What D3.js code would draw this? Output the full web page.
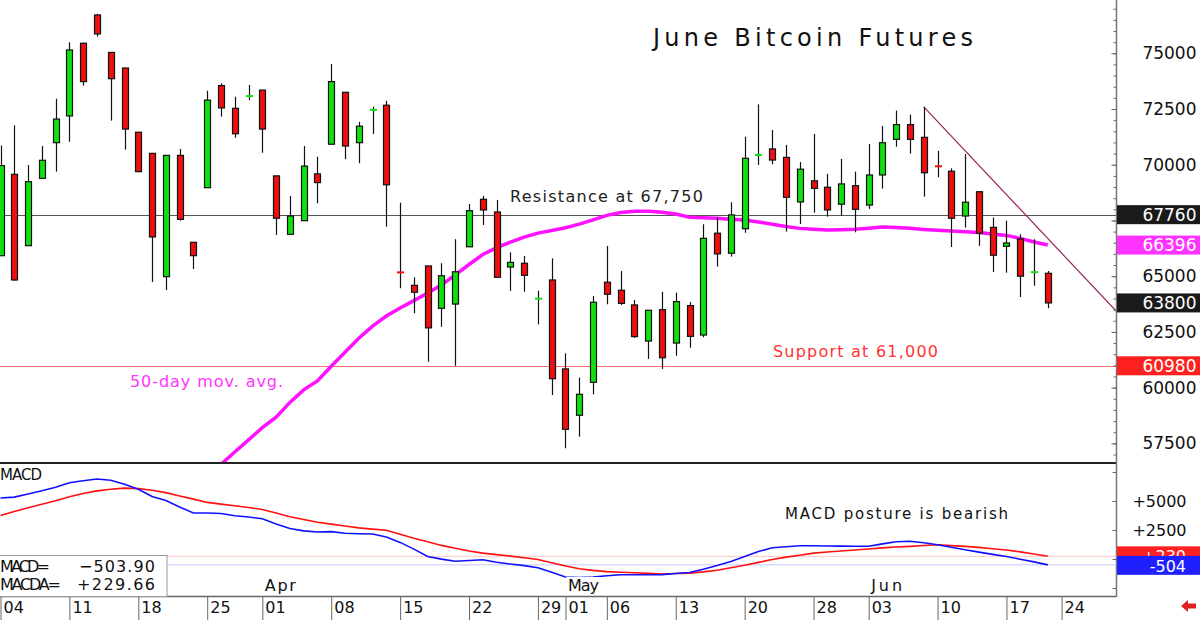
<!DOCTYPE html>
<html>
<head>
<meta charset="utf-8">
<script src="https://cdn.jsdelivr.net/npm/d3@7"></script>
<style>
  body { margin: 0; background: #fff; }
  svg { display: block; }
</style>
</head>
<body>
<script>
// daily OHLC, one entry per trading day from Mar 04
var opens  = [65920,69570,66370,69390,70990,72190,75450,76720,75040,74340,
              71460,70510,64980,70420,66520,68970,73550,72530,73060,73350,
              69500,66880,67490,69590,70920,73250,70990,72440,72670,65190,
              64590,65460,63560,63750,66320,68450,67880,65410,65580,63970,
              64830,60840,58760,60240,64730,64370,63710,62090,63500,62000,
              63680,62360,66930,66030,67130,70430,70710,70330,68330,69280,
              68990,68230,69060,68190,69540,71140,71800,71230,69950,69710,
              67700,68790,67190,66340,66670,65170,65130];
var highs  = [70860,71770,69990,70840,72960,75490,75480,76760,75060,74350,
              71470,70530,70440,70710,66530,73320,73650,73050,73580,73360,
              69510,68600,70840,70360,74520,73260,71920,72600,72870,68300,
              64950,65470,65580,66660,68240,68600,68420,66070,65910,64350,
              65800,61540,60450,64110,66360,65230,63930,63480,64300,64260,
              63840,67330,67640,68320,71260,72710,71560,70890,70120,71380,
              69590,70260,69690,70930,71740,72430,72250,72600,70620,69840,
              70480,68800,67630,67490,66880,66660,65230];
var lows   = [65900,64790,66350,69380,69690,71030,73550,75750,71980,70680,
              69680,64740,64380,67490,65320,68960,72160,71210,72900,70540,
              66850,66870,67480,68270,70910,70250,70070,71380,67220,64460,
              63340,61160,62730,60980,66310,67300,64940,64340,64300,62840,
              59670,57280,57800,59700,63740,63710,62240,61290,60840,61430,
              61790,62260,65430,65880,66950,69990,70020,67000,67340,67850,
              67670,67700,66970,68020,68930,70810,70500,68570,69440,66310,
              67180,66360,65190,65160,64070,64570,63560];
var closes = [69960,64830,69240,70200,72050,75150,73730,75870,73860,71600,
              69690,66760,70420,67550,65920,72900,72550,71390,73080,71600,
              67600,67700,69940,69200,73730,70840,71730,72460,69100,65170,
              64280,62680,65020,65200,67940,67970,64950,65620,65040,63990,
              60400,58130,59700,63830,64190,63780,62290,63470,61340,63860,
              62300,66700,66000,67750,70290,70440,70210,68540,69800,68940,
              67970,69140,68000,69540,70990,71800,71140,69640,69930,67600,
              68320,66930,65940,66490,65000,65180,63800];

// 50-day moving average, starts at day 16
var maStart = 16;
var ma50 = [56560,57110,57656,58208,58679,59338,59899,60298,60962,61590,
            62214,62761,63214,63573,63905,64242,64605,65058,65525,65974,
            66283,66525,66754,66934,67050,67176,67333,67530,67728,67853,
            67916,67916,67871,67790,67647,67620,67598,67557,67517,67432,
            67333,67230,67145,67109,67073,67087,67104,67149,67207,67181,
            67149,67100,67059,67028,66992,66956,66893,66830,66696,66534,66396];

// MACD (blue) and its average (red)
var macd    = [5258,5336,5603,5879,6181,6568,6741,6896,6784,6439,
               6008,5388,5034,4482,3965,3965,3922,3724,3620,3465,
               3026,2629,2422,2327,2362,2215,2181,2155,1896,1431,
               853,216,-9,-198,-129,-69,-276,-431,-569,-750,
               -1146,-1552,-1600,-1560,-1448,-1353,-1353,-1353,-1345,-1250,
               -1164,-879,-560,-207,207,638,974,1060,1146,1138,
               1121,1112,1103,1103,1302,1491,1526,1396,1224,1009,
               802,595,397,216,-17,-250,-504];
var macdAvg = [3741,4095,4422,4715,5025,5370,5646,5870,6017,6112,
               6068,5931,5724,5439,5163,4879,4732,4586,4439,4267,
               3957,3646,3405,3164,3008,2845,2681,2577,2474,2138,
               1793,1483,1172,922,690,509,379,250,112,-43,
               -319,-603,-836,-983,-1086,-1138,-1190,-1241,-1293,-1250,
               -1215,-1112,-974,-759,-534,-293,-43,164,328,509,
               603,690,776,862,957,1034,1086,1164,1233,1155,
               1086,1000,888,776,612,431,230];

// downtrend line: [day, price]
var trendLine = [[67, 72600], [81, 63410]];

var resistance = 67760, support = 60980;
var lastMacd = -503.90, lastMacdAvg = 229.66;

var priceTicks  = [57500, 60000, 62500, 65000, 67500, 70000, 72500, 75000];
var priceLabels = [57500, 60000, 62500, 65000, 70000, 72500, 75000]; // 67500 sits under the 67760 box
var macdTicks  = [-2500, 0, 2500, 5000, 7500];
var weekIdx = [0, 5, 10, 15, 19, 24, 29, 34, 39, 41, 44, 49, 54, 59, 63, 68, 73, 77];
var weekLbl = ["04","11","18","25","01","08","15","22","29","01","06","13","20","28","03","10","17","24"];
var monthIdx = [19, 41, 63];
var monthLbl = ["Apr", "May", "Jun"];

var w = 1200, h = 620;
var font = "'DejaVu Sans', sans-serif";
var axisX = 1116.5;
var upColor = "#10e010", downColor = "#ee1010";

var x  = d3.scaleLinear().domain([0, 81]).range([0.5, 1116.7]);
var yP = d3.scaleLinear().domain([56619, 77391]).range([463, 0]);
var yM = d3.scaleLinear().domain([-3190, 8276]).range([596, 463]);

var svg = d3.select("body").append("svg")
    .attr("width", w)
    .attr("height", h)
    .attr("font-family", font);

svg.append("defs").append("clipPath").attr("id", "pclip")
   .append("rect").attr("x", 0).attr("y", 0).attr("width", axisX).attr("height", 463);

// ---- price panel ----
var price = svg.append("g").attr("clip-path", "url(#pclip)");

price.append("line")
   .attr("x1", 0).attr("x2", axisX)
   .attr("y1", Math.round(yP(resistance)) + 0.5).attr("y2", Math.round(yP(resistance)) + 0.5)
   .attr("stroke", "#555").attr("stroke-width", 1);
price.append("line")
   .attr("x1", 0).attr("x2", axisX)
   .attr("y1", Math.round(yP(support)) + 0.5).attr("y2", Math.round(yP(support)) + 0.5)
   .attr("stroke", "#ff6a6a").attr("stroke-width", 1);

price.append("path")
   .datum(ma50)
   .attr("d", d3.line().x(function(d, i) { return x(i + maStart); }).y(function(d) { return yP(d); }))
   .attr("fill", "none")
   .attr("stroke", "#ff10ff")
   .attr("stroke-width", 3.5);

price.append("line")
   .attr("x1", x(trendLine[0][0])).attr("y1", yP(trendLine[0][1]))
   .attr("x2", x(trendLine[1][0])).attr("y2", yP(trendLine[1][1]))
   .attr("stroke", "#9a2060").attr("stroke-width", 1.2);

var days = d3.range(opens.length);

price.selectAll("line.wick")
   .data(days)
   .enter()
   .append("line")
   .attr("class", "wick")
   .attr("x1", function(i) { return Math.round(x(i)) + 0.5; })
   .attr("x2", function(i) { return Math.round(x(i)) + 0.5; })
   .attr("y1", function(i) { return yP(highs[i]); })
   .attr("y2", function(i) { return yP(lows[i]); })
   .attr("stroke", "#111")
   .attr("stroke-width", 1.2);

function isDoji(i) { return Math.abs(opens[i] - closes[i]) < 60; }

price.selectAll("rect.body")
   .data(days.filter(function(i) { return !isDoji(i); }))
   .enter()
   .append("rect")
   .attr("class", "body")
   .attr("x", function(i) { return Math.round(x(i)) - 2.5; })
   .attr("y", function(i) { return yP(Math.max(opens[i], closes[i])); })
   .attr("width", 6)
   .attr("height", function(i) { return Math.abs(yP(opens[i]) - yP(closes[i])); })
   .attr("fill", function(i) { return closes[i] > opens[i] ? upColor : downColor; })
   .attr("stroke", "#111")
   .attr("stroke-width", 1.2);

price.selectAll("rect.doji")
   .data(days.filter(isDoji))
   .enter()
   .append("rect")
   .attr("class", "doji")
   .attr("x", function(i) { return Math.round(x(i)) - 3; })
   .attr("y", function(i) { return yP(closes[i]) - 1; })
   .attr("width", 7)
   .attr("height", 2)
   .attr("fill", function(i) { return closes[i] >= opens[i] ? upColor : downColor; });

// texts in the price panel
function label(txt, px, py, size, color, len) {
  var t = svg.append("text")
     .attr("x", px).attr("y", py)
     .attr("font-size", size)
     .attr("fill", color)
     .text(txt);
  if (len) t.attr("textLength", len).attr("lengthAdjust", "spacing");
  return t;
}
label("June Bitcoin Futures", 653, 46, 24, "#111", 320);
label("Resistance at 67,750", 510, 202, 16, "#222", 193);
label("Support at 61,000", 773, 357, 16, "#ff3333", 165);
label("50-day mov. avg.", 130, 386.5, 16, "#ff33ff", 153);

// panel borders
svg.append("line").attr("x1", 0).attr("x2", axisX).attr("y1", 463).attr("y2", 463)
   .attr("stroke", "#222").attr("stroke-width", 2);
svg.append("line").attr("x1", 0).attr("x2", axisX).attr("y1", 596.5).attr("y2", 596.5)
   .attr("stroke", "#666").attr("stroke-width", 1.5);
svg.append("line").attr("x1", axisX).attr("x2", axisX).attr("y1", 0).attr("y2", 597)
   .attr("stroke", "#777").attr("stroke-width", 1.5);

// ---- right price axis ----
var minor = svg.append("g").attr("transform", "translate(" + axisX + ",0)")
   .call(d3.axisRight(yP).tickValues(d3.range(57000, 77001, 500)).tickSize(-3).tickFormat(""));
minor.select(".domain").remove();
minor.selectAll("line").attr("stroke", "#666");

var pAxis = svg.append("g").attr("transform", "translate(" + axisX + ",0)")
   .call(d3.axisRight(yP).tickValues(priceTicks).tickSize(-5)
     .tickFormat(function(d) { return priceLabels.indexOf(d) >= 0 ? d : ""; }));
pAxis.select(".domain").remove();
pAxis.selectAll("line").attr("stroke", "#666");
pAxis.selectAll("text")
   .attr("x", 80).attr("text-anchor", "end")
   .attr("font-family", font).attr("font-size", 17).attr("fill", "#111");

function valueBox(v, y, fill, txt, right) {
  svg.append("rect").attr("x", axisX + 0.5).attr("y", y - 9.5)
     .attr("width", w - axisX).attr("height", 19).attr("fill", fill);
  svg.append("text").attr("x", right).attr("y", y).attr("dy", "0.36em")
     .attr("text-anchor", "end").attr("font-size", 17).attr("fill", "#fff")
     .text(txt);
}
valueBox(resistance, yP(resistance), "#1a1a1a", resistance, 1196.5);
valueBox(ma50[ma50.length - 1], yP(ma50[ma50.length - 1]), "#ff33ff", ma50[ma50.length - 1], 1196.5);
valueBox(closes[closes.length - 1], yP(closes[closes.length - 1]), "#1a1a1a", closes[closes.length - 1], 1196.5);
valueBox(support, yP(support), "#ff2020", support, 1196.5);

// ---- MACD panel ----
svg.append("line").attr("x1", 0).attr("x2", axisX)
   .attr("y1", yM(lastMacdAvg)).attr("y2", yM(lastMacdAvg))
   .attr("stroke", "#ffc6c6").attr("stroke-width", 1);
svg.append("line").attr("x1", 0).attr("x2", axisX)
   .attr("y1", yM(lastMacd)).attr("y2", yM(lastMacd))
   .attr("stroke", "#c6c6ff").attr("stroke-width", 1);

svg.append("path")
   .datum(macdAvg)
   .attr("d", d3.line().x(function(d, i) { return x(i); }).y(function(d) { return yM(d); }))
   .attr("fill", "none").attr("stroke", "#ff1010").attr("stroke-width", 1.6);
svg.append("path")
   .datum(macd)
   .attr("d", d3.line().x(function(d, i) { return x(i); }).y(function(d) { return yM(d); }))
   .attr("fill", "none").attr("stroke", "#1010ff").attr("stroke-width", 1.6);

label("MACD", 0, 479.5, 15, "#111", 42);
label("MACD posture is bearish", 785, 519, 15, "#111", 223);

svg.append("rect").attr("x", -1).attr("y", 555.5).attr("width", 168).attr("height", 41)
   .attr("fill", "#fff").attr("stroke", "#999").attr("stroke-width", 1);
label("MACD=", 0, 571.5, 16, "#111", 50);
label("MACDA=", 0, 590, 16, "#111", 61);
label(d3.format(".2f")(lastMacd), 155, 571.5, 16, "#111", 76).attr("text-anchor", "end");
label(d3.format("+.2f")(lastMacdAvg), 155, 590, 16, "#111", 78).attr("text-anchor", "end");

var mAxis = svg.append("g").attr("transform", "translate(" + axisX + ",0)")
   .call(d3.axisRight(yM).tickValues(macdTicks).tickSize(-4)
     .tickFormat(function(d) { return (d === 2500 || d === 5000) ? "+" + d : ""; }));
mAxis.select(".domain").remove();
mAxis.selectAll("line").attr("stroke", "#666");
mAxis.selectAll("text")
   .attr("x", 70).attr("text-anchor", "end")
   .attr("font-family", font).attr("font-size", 16).attr("fill", "#111");

svg.append("rect").attr("x", axisX + 0.5).attr("y", yM(lastMacdAvg) - 10)
   .attr("width", w - axisX).attr("height", 19).attr("fill", "#ff2020");
svg.append("text").attr("x", 1186).attr("y", yM(lastMacdAvg)).attr("dy", "0.36em")
   .attr("text-anchor", "end").attr("font-size", 16).attr("fill", "#fff")
   .text("+" + Math.round(lastMacdAvg));
svg.append("rect").attr("x", axisX + 0.5).attr("y", yM(lastMacd) - 9)
   .attr("width", w - axisX).attr("height", 19).attr("fill", "#2020ff");
svg.append("text").attr("x", 1186).attr("y", yM(lastMacd) + 1).attr("dy", "0.36em")
   .attr("text-anchor", "end").attr("font-size", 16).attr("fill", "#fff")
   .text(Math.round(lastMacd));

// month names sit on a white patch
var months = svg.selectAll("g.month")
   .data(monthIdx)
   .enter()
   .append("g")
   .attr("class", "month");
months.append("rect")
   .attr("x", function(d) { return x(d) + 1; })
   .attr("y", 577).attr("width", 34).attr("height", 18)
   .attr("fill", "#fff");
months.append("text")
   .attr("x", function(d) { return x(d) + 2.5; })
   .attr("y", 591)
   .attr("font-size", 16)
   .attr("fill", "#111")
   .attr("textLength", 31).attr("lengthAdjust", "spacing")
   .text(function(d, i) { return monthLbl[i]; });

// ---- date axis ----
var dAxis = svg.append("g").attr("transform", "translate(0,597)")
   .call(d3.axisBottom(x).tickValues(weekIdx).tickSize(24)
     .tickFormat(function(d, i) { return weekLbl[i]; }));
dAxis.select(".domain").remove();
dAxis.selectAll("line").attr("stroke", "#666");
dAxis.selectAll("text")
   .attr("x", 2.5).attr("y", 3).attr("dy", "0.8em")
   .attr("text-anchor", "start")
   .attr("font-family", font).attr("font-size", 16).attr("fill", "#111");

// little red arrow bottom right
svg.append("path")
   .attr("d", "M1181,606 L1188,600 L1188,603.5 L1196,603.5 L1196,608.5 L1188,608.5 L1188,612 Z")
   .attr("fill", "#e02020");
</script>
</body>
</html>
